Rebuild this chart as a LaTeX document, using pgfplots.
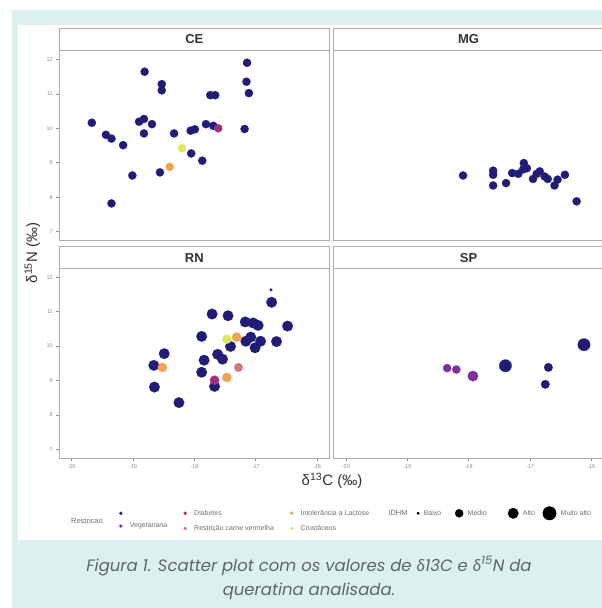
\documentclass[border=0pt]{standalone}
\usepackage{pgfplots}
\pgfplotsset{compat=1.18}
\usepackage{fontspec}
\setmainfont{Liberation Sans}
\newfontfamily\capfont{Poppins}
\newfontfamily\grkfont{Lato}

\definecolor{bgcyan}{HTML}{DDF0F0}
\definecolor{cNone}{HTML}{211D76}
\definecolor{cVeg}{HTML}{7F2FA3}
\definecolor{cDia}{HTML}{A0307F}
\definecolor{cRed}{HTML}{D9737A}
\definecolor{cLac}{HTML}{F0A250}
\definecolor{cCru}{HTML}{DCE65E}
\definecolor{frameg}{HTML}{B4ACAC}
\definecolor{stripline}{HTML}{8E8686}
\definecolor{tickg}{HTML}{8E8E8E}
\definecolor{labg}{HTML}{333333}
\definecolor{legtext}{HTML}{707070}
\definecolor{capg}{HTML}{5E6666}

\pgfplotsset{
  facet/.style={
    scale only axis, width=270pt, height=189.6pt,
    xmin=-20.2, xmax=-15.8, ymin=6.75, ymax=12.25,
    xtick={-20,-19,-18,-17,-16}, ytick={7,8,9,10,11,12},
    tick pos=left,
    axis line style={frameg, line width=0.7pt},
    tick style={tickg, line width=0.5pt},
    tick align=outside, major tick length=3pt,
    tick label style={font=\fontsize{5.5}{6}\selectfont, text=tickg},
    /pgf/number format/assume math mode=true,
    anchor=north west,
  },
  noxt/.style={xtick=\empty},
  noyt/.style={ytick=\empty},
  dots/.style 2 args={only marks, mark=*, mark size=#2, color=#1, mark options={line width=0.2pt}},
  legax/.style={hide axis, scale only axis, width=1pt, height=1pt,
    xmin=0, xmax=1, ymin=0, ymax=1, anchor=center,
    legend style={at={(0.5,0.5)}, anchor=west, draw=none, fill=none, inner sep=0pt,
      font=\fontsize{7}{8}\selectfont, text=legtext, row sep=7.5pt, cells={anchor=west},
      nodes={inner sep=0.5pt},
      /tikz/every odd column/.append style={column sep=7pt}},
    legend image code/.code={\draw[##1] plot[only marks] coordinates {(0pt,0pt)};},
  },
}

\begin{document}
\begin{tikzpicture}
% background frame
\fill[white] (0pt,0pt) rectangle (602pt,-608pt);
\fill[bgcyan] (12pt,-10pt) rectangle (602pt,-608pt);
\fill[white] (18pt,-25pt) rectangle (602pt,-540pt);
\useasboundingbox (0pt,0pt) rectangle (602pt,-608pt);

% strips
\begin{scope}[x=1pt,y=-1pt]
\foreach \xa/\xb/\ya/\yb/\lab in {59.3/329.3/28.3/50.7/CE, 333.6/603.6/28.3/50.7/MG, 59.3/329.3/246.7/268.5/RN, 333.6/603.6/246.7/268.5/SP}{
  \filldraw[fill=white, draw=frameg, line width=0.7pt] (\xa,\ya) rectangle (\xb,\yb);
  \draw[stripline, line width=1.1pt] (\xa,\yb) -- (\xb,\yb);
  \node[font=\bfseries\fontsize{13}{14}\selectfont, text=labg] at ({(\xa+\xb)/2},{(\ya+\yb)/2}) {\lab};
}
\end{scope}

% CE
\begin{axis}[facet, noxt, at={(59.3pt,-50.7pt)}]
\addplot[dots={cNone}{4.1pt}] coordinates {
(-19.67,10.16) (-19.44,9.81) (-19.35,9.70) (-19.16,9.51) (-19.35,7.82)
(-19.01,8.63) (-18.81,11.64) (-18.90,10.19) (-18.82,10.27) (-18.82,9.85)
(-18.69,10.12) (-18.53,11.28) (-18.53,11.10) (-18.56,8.72) (-18.33,9.85)
(-18.05,9.27) (-18.06,9.93) (-17.99,9.97) (-17.87,9.06) (-17.81,10.12)
(-17.74,10.96) (-17.66,10.96) (-17.69,10.07) (-17.18,9.98) (-17.14,11.90)
(-17.15,11.35) (-17.11,11.02)
};
\addplot[dots={cLac}{4.1pt}] coordinates {(-18.40,8.88)};
\addplot[dots={cCru}{4.1pt}] coordinates {(-18.20,9.42)};
\addplot[dots={cDia}{4.1pt}] coordinates {(-17.61,10.00)};
\end{axis}

% MG
\begin{axis}[facet, noxt, noyt, at={(333.6pt,-50.7pt)}]
\addplot[dots={cNone}{4.1pt}] coordinates {
(-18.09,8.63) (-17.60,8.77) (-17.60,8.65) (-17.60,8.34) (-17.39,8.41)
(-17.29,8.70) (-17.19,8.68) (-17.11,8.81) (-17.10,8.99) (-17.05,8.84)
(-16.95,8.53) (-16.89,8.68) (-16.84,8.75) (-16.76,8.60) (-16.71,8.53)
(-16.60,8.34) (-16.55,8.51) (-16.43,8.65) (-16.24,7.88)
};
\end{axis}

% RN
\begin{axis}[facet, at={(59.3pt,-268.5pt)}]
\addplot[dots={cNone}{5.3pt}] coordinates {
(-16.74,11.27) (-17.71,10.93) (-17.45,10.88) (-17.17,10.70) (-17.04,10.67)
(-16.96,10.60) (-16.48,10.58) (-17.88,10.28) (-17.08,10.26) (-17.16,10.14)
(-16.92,10.14) (-16.66,10.13) (-17.01,9.95) (-17.41,9.99) (-18.49,9.78)
(-17.62,9.76) (-17.54,9.62) (-17.84,9.59) (-18.66,9.44) (-17.88,9.24)
(-17.67,8.83) (-18.65,8.81) (-18.25,8.36)
};
\addplot[dots={cNone}{1.4pt}] coordinates {(-16.75,11.63)};
\addplot[dots={cLac}{4.6pt}] coordinates {(-17.31,10.26) (-18.52,9.38) (-17.47,9.09)};
\addplot[dots={cCru}{4.6pt}] coordinates {(-17.47,10.20)};
\addplot[dots={cRed}{4.3pt}] coordinates {(-17.28,9.38)};
\addplot[dots={cDia}{4.6pt}] coordinates {(-17.67,9.01)};
\end{axis}

% SP
\begin{axis}[facet, noyt, at={(333.6pt,-268.5pt)}]
\addplot[dots={cVeg}{4.1pt}] coordinates {(-18.35,9.36) (-18.20,9.32)};
\addplot[dots={cVeg}{5.2pt}] coordinates {(-17.93,9.13)};
\addplot[dots={cNone}{6.2pt}] coordinates {(-17.40,9.43) (-16.12,10.04)};
\addplot[dots={cNone}{4.3pt}] coordinates {(-16.70,9.38) (-16.75,8.89)};
\end{axis}

% axis titles, legend titles and caption
\begin{scope}[x=1pt,y=-1pt]
\node[font=\fontsize{15}{16}\selectfont, text=labg] at (332,481) {δ\textsuperscript{13}C (‰)};
\node[font=\fontsize{15}{16}\selectfont, text=labg, rotate=90] at (32.5,253) {δ\textsuperscript{15}N (‰)};
\node[font=\fontsize{7.5}{8}\selectfont, text=legtext] at (87,521) {Restricao};
\node[font=\fontsize{7.5}{8}\selectfont, text=legtext] at (398,513.3) {IDHM};
\node[font=\capfont\itshape\fontsize{16.5}{24}\selectfont, text=capg, align=center] at (309,578)
  {Figura 1. Scatter plot com os valores de {\grkfont δ}13C e {\grkfont δ}\textsuperscript{15}N da\\queratina analisada.};
\end{scope}

% legend: Restricao
\begin{axis}[legax, at={(119.2pt,-520.8pt)}]
\addlegendimage{mark=*, mark size=1.5pt, cNone}
\addlegendentry{}
\addlegendimage{mark=*, mark size=1.5pt, cVeg}
\addlegendentry{Vegetariana}
\end{axis}
\begin{axis}[legax, at={(183.5pt,-520.8pt)}]
\addlegendimage{mark=*, mark size=1.5pt, cDia}
\addlegendentry{Diabetes}
\addlegendimage{mark=*, mark size=1.5pt, cRed}
\addlegendentry{Restrição carne vermelha}
\end{axis}
\begin{axis}[legax, at={(290pt,-520.8pt)}]
\addlegendimage{mark=*, mark size=1.5pt, cLac}
\addlegendentry{Intolerância a Lactose}
\addlegendimage{mark=*, mark size=1.5pt, cCru}
\addlegendentry{Crustáceos}
\end{axis}
% legend: IDHM
\begin{axis}[legax, at={(416.7pt,-513.3pt)}, legend style={/tikz/every odd column/.append style={column sep=4pt}}]
\addlegendimage{mark=*, mark size=1.2pt, black}
\addlegendentry{Baixo}
\end{axis}
\begin{axis}[legax, at={(455pt,-513.3pt)}, legend style={/tikz/every odd column/.append style={column sep=4pt}}]
\addlegendimage{mark=*, mark size=4pt, black}
\addlegendentry{Medio}
\end{axis}
\begin{axis}[legax, at={(507.8pt,-513.3pt)}, legend style={/tikz/every odd column/.append style={column sep=4pt}}]
\addlegendimage{mark=*, mark size=5.2pt, black}
\addlegendentry{Alto}
\end{axis}
\begin{axis}[legax, at={(542.6pt,-513.3pt)}, legend style={/tikz/every odd column/.append style={column sep=4pt}}]
\addlegendimage{mark=*, mark size=6.7pt, black}
\addlegendentry{Muito alto}
\end{axis}
\end{tikzpicture}
\end{document}
